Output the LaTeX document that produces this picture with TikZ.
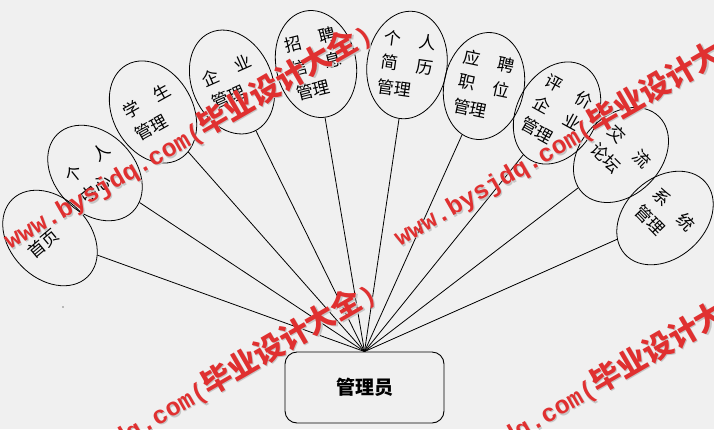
\documentclass[tikz,border=0pt]{standalone}
\usepackage{fontspec}
\usetikzlibrary{shapes.geometric}
\newfontfamily\cjk{Noto Sans CJK SC}
\newfontfamily\wmlat{Liberation Mono}
\definecolor{bg}{RGB}{240,240,240}
\definecolor{wmred}{RGB}{224,48,48}
\newcommand\pairline[2]{\makebox[52pt][l]{#1\hfill#2}}
\newcommand\wmtext{{\wmlat\bfseries\fontsize{25}{25}\selectfont www.bysjdq.com(}{\cjk\bfseries\fontsize{30}{30}\selectfont 毕业设计大全}{\wmlat\bfseries\fontsize{25}{25}\selectfont )}}
\begin{document}
\begin{tikzpicture}[x=1pt,y=-1pt,
  oval/.style={draw, ellipse, minimum width=80pt, minimum height=108pt, inner sep=0pt, line width=0.8pt},
  lbl/.style={font=\cjk\fontsize{17}{25}\selectfont, text width=52pt, align=left, inner sep=0pt},
  conn/.style={line width=0.8pt},
  wm/.style={rotate=30, anchor=base west, text=wmred, inner sep=0pt},
  wmshadow/.style={rotate=30, anchor=base west, text=gray!45, inner sep=0pt}
]
\fill[bg] (0,0) rectangle (714,429);
\useasboundingbox (0,0) rectangle (714,429);

\node[draw, rounded corners=12pt, minimum width=159pt, minimum height=71pt, line width=0.9pt,
      font=\cjk\bfseries\fontsize{19}{19}\selectfont] (m) at (364.5,387.5) {管理员};
\coordinate (hub) at (m.north);

\node[oval, rotate=44] (e1) at (50,238) {};
\node[oval, rotate=44] (e2) at (95,173) {};
\node[oval, rotate=29] (e3) at (153,112) {};
\node[oval, rotate=24] (e4) at (232,82) {};
\node[oval, rotate=12] (e5) at (316,64) {};
\node[oval, rotate=-8] (e6) at (407,65) {};
\node[oval, rotate=-12] (e7) at (484,86) {};
\node[oval, rotate=-29] (e8) at (557,113) {};
\node[oval, rotate=-45] (e9) at (621,155) {};
\node[oval, rotate=-48] (e10) at (665,218) {};

\node[lbl, rotate=40] at (e1) {首页};
\node[lbl, rotate=39] at (e2) {\pairline{个}{人}\\中心};
\node[lbl, rotate=29] at (e3) {\pairline{学}{生}\\管理};
\node[lbl, rotate=24] at (e4) {\pairline{企}{业}\\管理};
\node[lbl, rotate=14] at (e5) {\pairline{招}{聘}\\\pairline{信}{息}\\管理};
\node[lbl, rotate=-8] at (e6) {\pairline{个}{人}\\\pairline{简}{历}\\管理};
\node[lbl, rotate=-12] at (e7) {\pairline{应}{聘}\\\pairline{职}{位}\\管理};
\node[lbl, rotate=-29] at (e8) {\pairline{评}{价}\\\pairline{企}{业}\\管理};
\node[lbl, rotate=-45] at (e9) {\pairline{交}{流}\\论坛};
\node[lbl, rotate=-46] at (e10) {\pairline{系}{统}\\管理};

\foreach \i in {1,...,10} \draw[conn] (e\i) -- (hub);

\fill (63,307) circle (0.7pt);

\begin{scope}
\clip (0,0) rectangle (714,429);
\foreach \px/\py [count=\k] in {10/250,400/247,14/509,403/507} {
  \node[wmshadow] (ws\k) at (\px+1.2,\py+1.2) {\wmtext};
  \node[wm] (w\k) at (\px,\py) {\wmtext};
}
\end{scope}
\end{tikzpicture}
\end{document}
